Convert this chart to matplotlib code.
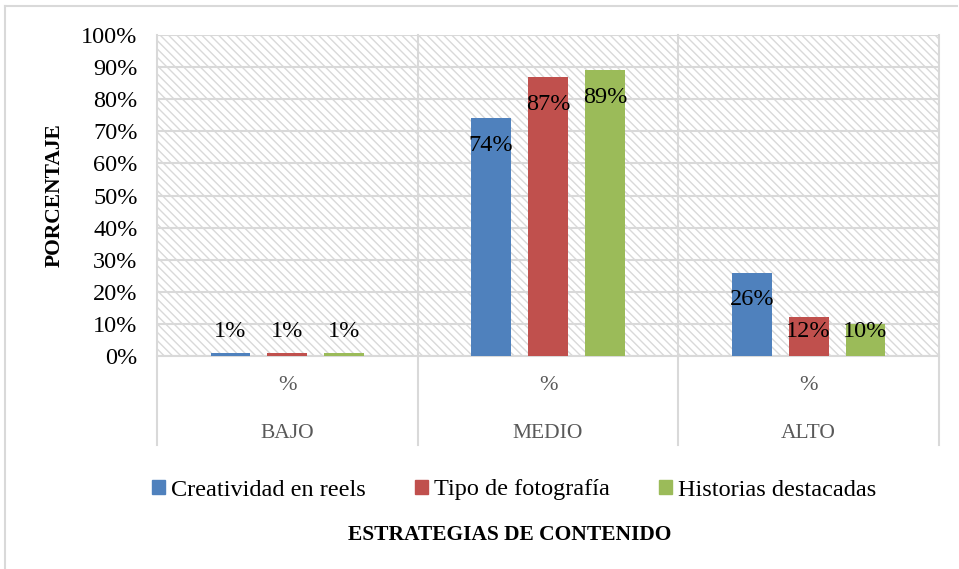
import matplotlib.pyplot as plt
import numpy as np
from matplotlib.lines import Line2D
from matplotlib.patches import Rectangle

plt.rcParams['font.family'] = ['Liberation Serif', 'DejaVu Serif']
plt.rcParams['hatch.color'] = '#d9d9d9'
plt.rcParams['hatch.linewidth'] = 1.0

categories = ["BAJO", "MEDIO", "ALTO"]
series = ["Creatividad en reels", "Tipo de fotografía", "Historias destacadas"]
values = {
    "Creatividad en reels": [1, 74, 26],
    "Tipo de fotografía": [1, 87, 12],
    "Historias destacadas": [1, 89, 10],
}
colors = ["#4f81bd", "#c0504d", "#9bbb59"]
yticks = list(range(0, 101, 10))

fig = plt.figure(figsize=(9.59, 5.69), dpi=100)
W, H = 959, 569
ax = fig.add_axes([157 / W, 1 - 356 / H, (939 - 157) / W, (356 - 35) / H])

# hatched plot-area background
ax.add_patch(Rectangle((0, 0), 1, 1, transform=ax.transAxes, facecolor='white',
                       edgecolor='#d9d9d9', hatch='\\\\\\\\', linewidth=0, zorder=0))

x = np.arange(len(categories))
width = 0.153
offsets = [-0.218, 0, 0.218]
for name, off, col in zip(series, offsets, colors):
    vals = values[name]
    ax.bar(x + off, vals, width, color=col, zorder=3, label=name)
    for xi, v in zip(x, vals):
        ax.text(xi + off, max(v - 8.5, 7.5), f"{v}%", ha='center', va='center',
                fontsize=17.5, color='#000000', zorder=4)

ax.set_xlim(-0.5, 2.5)
ax.set_ylim(0, 100)
ax.set_yticks(yticks)
ax.set_yticklabels([f"{t}%" for t in yticks], fontsize=17.5, color='#000000')
ax.tick_params(axis='y', length=0, pad=14)
ax.set_xticks([])
ax.grid(axis='y', color='#d9d9d9', linewidth=1.5, zorder=1)
for s in ax.spines.values():
    s.set_visible(False)

# vertical category separators, extending below the plot area
ext = -(445 - 356) / (356 - 35)
for xb in [-0.5, 0.5, 1.5, 2.5]:
    ax.plot([xb, xb], [ext, 1], color='#d9d9d9', linewidth=1.5,
            transform=ax.get_xaxis_transform(), clip_on=False, zorder=2)
ax.plot([-0.5, 2.5], [0, 0], color='#d9d9d9', linewidth=1.5,
        transform=ax.get_xaxis_transform(), clip_on=False, zorder=2)

# two-level category axis
for xi, cat in zip(x, categories):
    ax.text(xi, -(385 - 356) / 321, "%", ha='center', va='center', fontsize=16,
            color='#595959', transform=ax.get_xaxis_transform())
    ax.text(xi, -(433 - 356) / 321, cat, ha='center', va='center', fontsize=15.5,
            color='#595959', transform=ax.get_xaxis_transform())

fig.text(55 / W, 1 - 195 / H, "PORCENTAJE", rotation=90, ha='center', va='center',
         fontsize=15.5, fontweight='bold', color='#000000')
fig.text(510 / W, 1 - 535 / H, "ESTRATEGIAS DE CONTENIDO", ha='center', va='center',
         fontsize=15.5, fontweight='bold', color='#000000')

handles = [Rectangle((0, 0), 1, 1, color=c) for c in colors]
fig.legend(handles, series, loc='center', bbox_to_anchor=(514 / W, 1 - 490 / H),
           ncol=3, frameon=False, fontsize=17.5, handlelength=0.55, handleheight=0.55,
           handletextpad=0.25, columnspacing=2.0)

# outer chart frame (top and left edges visible)
fig.add_artist(Line2D([5 / W, 5 / W], [0, 1 - 6 / H], color='#d9d9d9', linewidth=1.5))
fig.add_artist(Line2D([5 / W, 957 / W], [1 - 6 / H, 1 - 6 / H], color='#d9d9d9', linewidth=1.5))

fig.savefig("out.png", dpi=100)
